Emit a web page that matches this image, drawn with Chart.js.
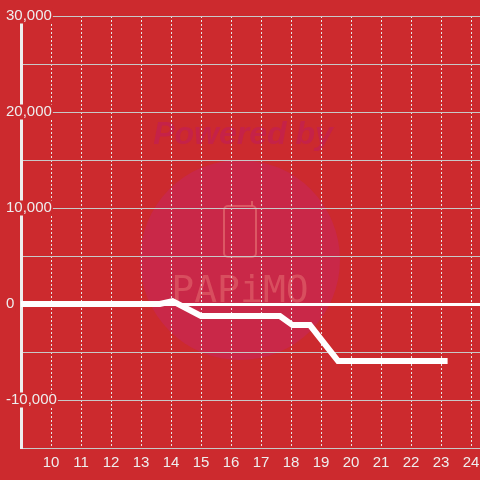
<!DOCTYPE html>
<html><head><meta charset="utf-8">
<script src="https://cdn.jsdelivr.net/npm/chart.js@4.4.1/dist/chart.umd.min.js"></script>
<style>html,body{margin:0;padding:0;background:#cc2a2e;} #wrap{width:480px;height:480px;position:relative;}</style>
</head><body><div id="wrap"><canvas id="c"></canvas></div>
<script>
// ---- data ----
const xValues = [8, 13.63, 14.05, 15.0, 17.63, 18.05, 18.63, 19.57, 23.22];
const yValues = [0, 0, 300, -1250, -1250, -2200, -2200, -5940, -5940];
const xMin = 9, xMax = 24.3, xStep = 1, xFirstLabel = 10;
const yMin = -15000, yMax = 30000, yGridStep = 5000, yLabelStep = 10000;
const watermarkTop = 'Powered by';
const watermarkBrand = 'PAPiMO';

const BG = '#cc2a2e';
const points = xValues.map((x, i) => ({x: x, y: yValues[i]}));

const bgPlugin = {
  id: 'bg',
  beforeDraw(chart) {
    const ctx = chart.ctx;
    ctx.save();
    ctx.fillStyle = BG;
    ctx.fillRect(0, 0, chart.width, chart.height);
    ctx.fillStyle = '#c92848';
    ctx.beginPath(); ctx.arc(240, 260, 100, 0, Math.PI * 2); ctx.fill();
    ctx.fillStyle = 'rgba(196,34,74,0.95)';
    ctx.font = 'italic bold 32px "Liberation Sans"';
    ctx.textAlign = 'center'; ctx.textBaseline = 'alphabetic';
    ctx.fillText(watermarkTop, 243, 144);
    ctx.strokeStyle = 'rgba(228,108,112,0.7)'; ctx.lineWidth = 2;
    ctx.beginPath();
    if (ctx.roundRect) ctx.roundRect(224, 206, 32, 51, 4); else ctx.rect(224, 206, 32, 51);
    ctx.stroke();
    ctx.beginPath(); ctx.moveTo(252, 201); ctx.lineTo(252, 206); ctx.stroke();
    ctx.fillStyle = 'rgba(226,104,110,0.6)';
    ctx.font = '38px "DejaVu Sans Mono"';
    ctx.fillText(watermarkBrand, 240, 302);
    ctx.restore();
  }
};

new Chart(document.getElementById('c'), {
  type: 'line',
  data: {
    datasets: [{
      data: points,
      borderColor: '#ffffff',
      borderWidth: 6,
      pointRadius: 0,
      pointHoverRadius: 0,
      tension: 0,
      fill: false
    }]
  },
  options: {
    responsive: true,
    maintainAspectRatio: false,
    animation: false,
    events: [],
    layout: {padding: {left: 0, top: 16, right: 0, bottom: 0}},
    plugins: {legend: {display: false}, tooltip: {enabled: false}},
    scales: {
      x: {
        type: 'linear',
        min: xMin, max: xMax,
        ticks: {
          stepSize: xStep,
          includeBounds: false,
          autoSkip: false,
          maxRotation: 0,
          padding: 6,
          color: '#eeeeee',
          font: {family: '"Liberation Sans"', size: 15, lineHeight: 1.2},
          callback: v => (Number.isInteger(v) && v >= xFirstLabel) ? String(v) : ''
        },
        grid: {color: '#e6e6e6', lineWidth: 1, drawTicks: false},
        border: {display: false, dash: [2, 2]},
        afterFit: s => { s.height = 32; s.paddingLeft = 0; s.paddingRight = 0; }
      },
      y: {
        type: 'linear',
        min: yMin, max: yMax,
        ticks: {
          stepSize: yGridStep,
          mirror: true,
          crossAlign: 'near',
          padding: -15,
          color: '#eeeeee',
          font: {family: '"Liberation Sans"', size: 15, lineHeight: 1},
          showLabelBackdrop: c => c.tick && c.tick.value % yLabelStep === 0,
          backdropColor: BG,
          backdropPadding: {left: 1, right: 1, top: 0, bottom: 0},
          callback: v => v % yLabelStep === 0 ? v.toLocaleString('en-US') : ''
        },
        grid: {
          drawTicks: false,
          color: c => c.tick && c.tick.value === 0 ? '#ffffff' : '#c8c8c8',
          lineWidth: c => c.tick && c.tick.value === 0 ? 3 : 1
        },
        border: {display: true, color: '#eeeeee', width: 3},
        afterFit: s => { s.width = 21; s.paddingTop = 0; s.paddingBottom = 0; }
      }
    }
  },
  plugins: [bgPlugin]
});
</script>
</body></html>
